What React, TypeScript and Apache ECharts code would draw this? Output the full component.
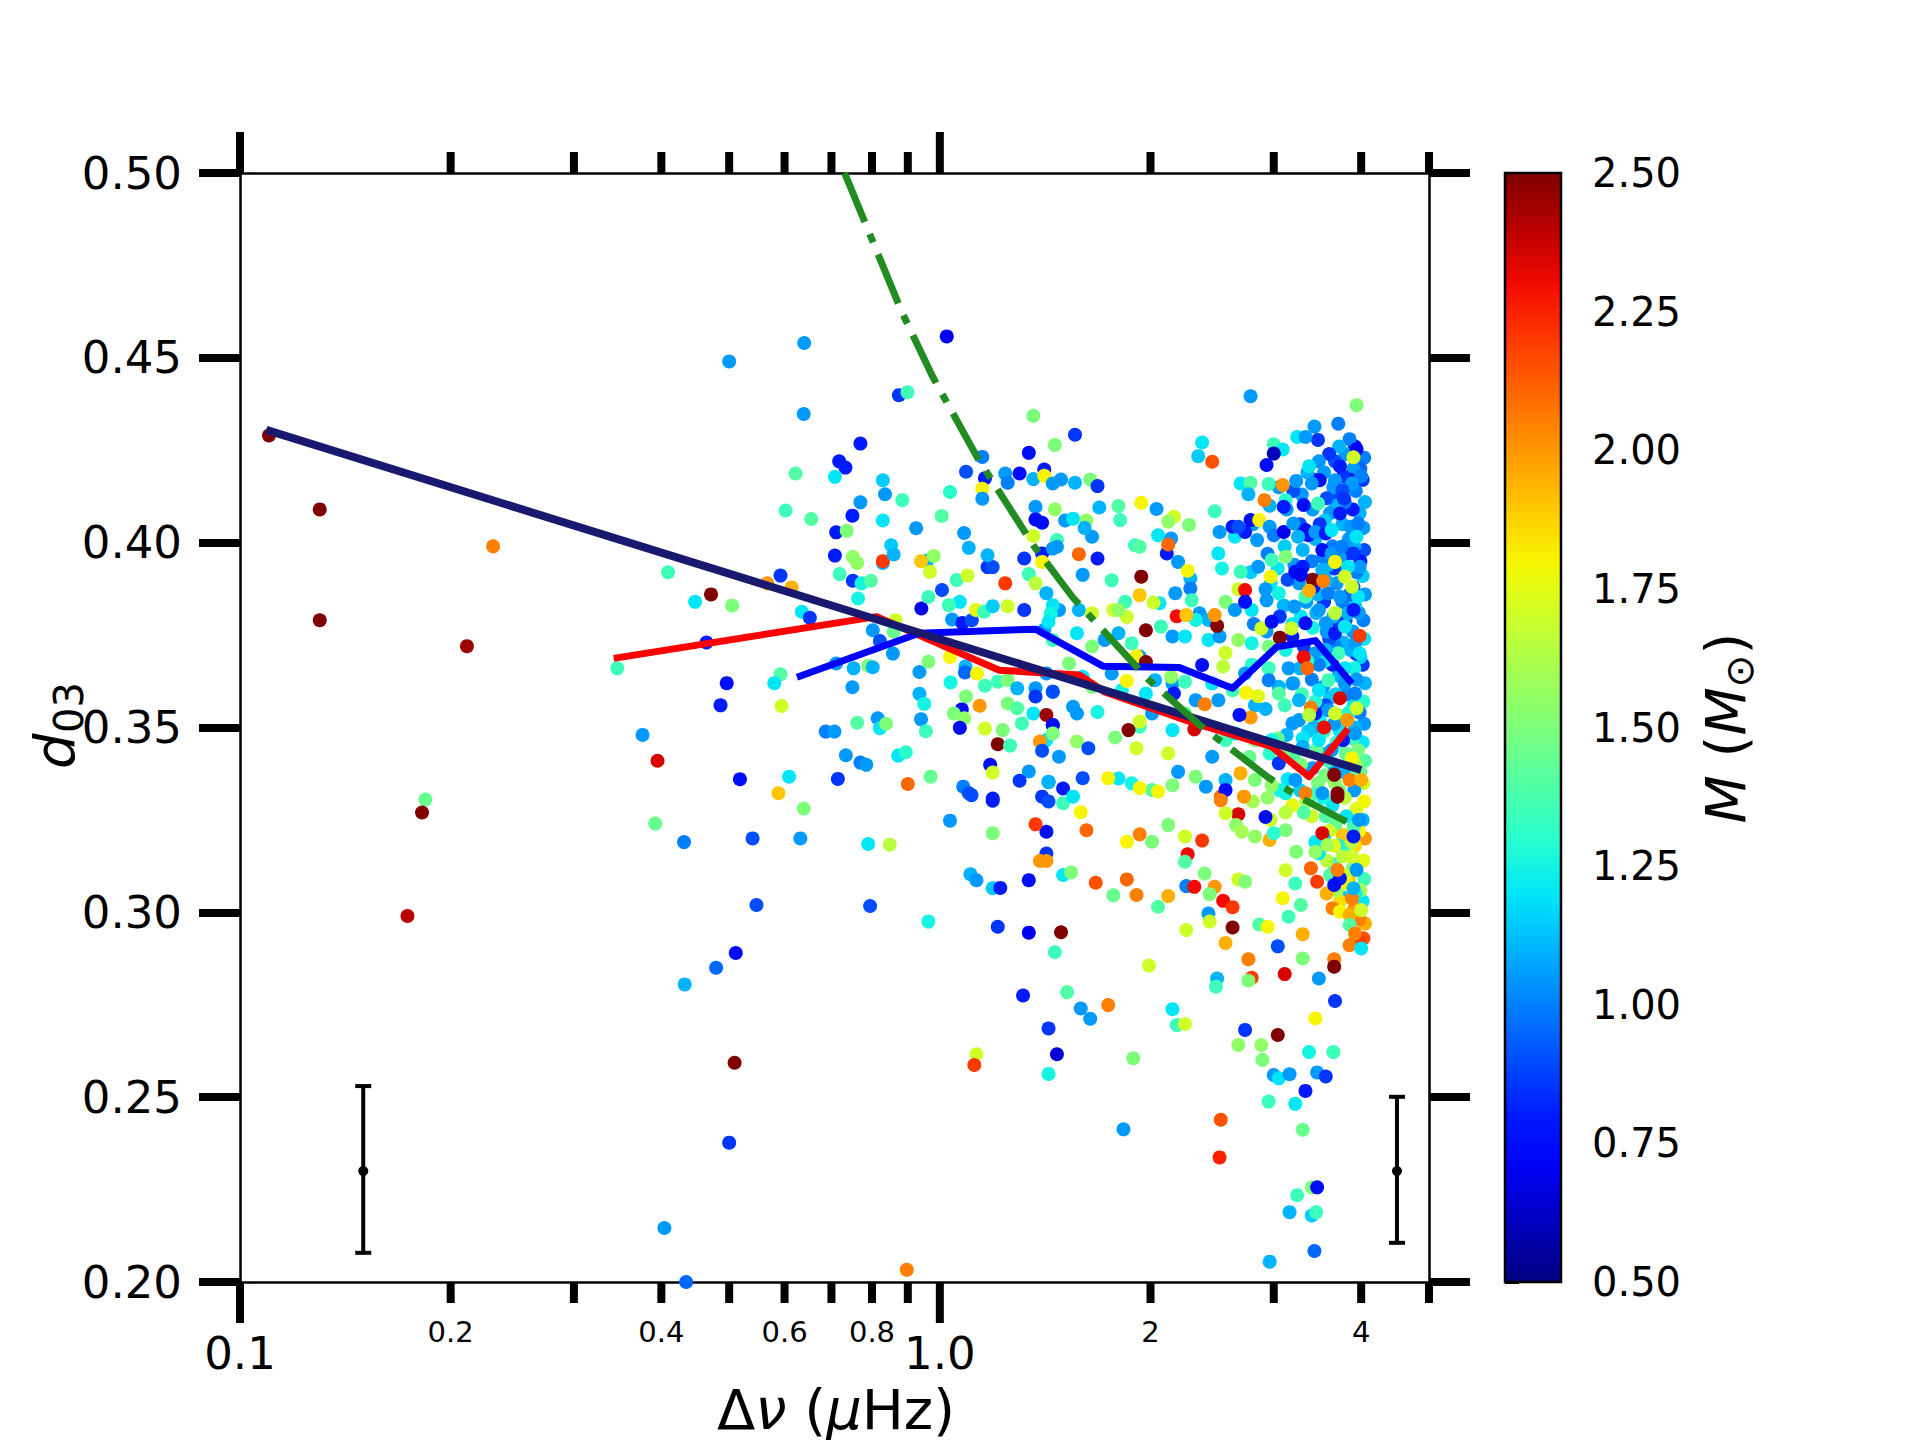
import React, { useEffect, useRef } from 'react';
import * as echarts from 'echarts';

type Pt = [number, number, number]; // [delta nu (muHz), d03, mass (Msun)]

const FONT = "'DejaVu Sans', sans-serif";

// ---- scatter data ----
const denseWall: Pt[] = [
  [4.04,0.423,1.0],[4.02,0.417,0.85],[4.05,0.411,1.1],[4.03,0.404,1.05],[4.04,0.398,0.9],[4.02,0.391,1.15],[4.05,0.386,1.05],[4.03,0.379,1.0],[4.04,0.374,1.2],[4.02,0.367,0.85],[4.05,0.362,1.1],[4.03,0.357,1.3],[4.04,0.351,1.05],[4.02,0.346,1.2],[4.05,0.341,1.4],[4.03,0.335,1.7],[4.04,0.330,1.8],[4.02,0.325,1.1],[4.05,0.320,2.0],[4.03,0.314,1.75],[4.04,0.309,1.35],[4.02,0.303,1.2],[4.05,0.297,1.95],[4.03,0.293,2.15],
  [3.99,0.420,0.95],[3.98,0.408,1.1],[3.99,0.395,0.8],[3.97,0.381,1.05],[3.99,0.369,1.15],[3.98,0.354,1.0],[3.99,0.338,1.45],[3.97,0.322,1.8],[3.99,0.306,1.6],[3.98,0.298,2.05],
  [3.92,0.426,0.75],[3.90,0.420,1.05],[3.93,0.414,1.0],[3.89,0.409,0.8],[3.91,0.399,1.1],[3.94,0.392,1.0],[3.90,0.388,0.9],[3.92,0.383,1.15],[3.89,0.376,1.05],[3.93,0.370,0.85],[3.91,0.366,1.25],[3.94,0.363,1.05],[3.90,0.356,1.2],[3.92,0.350,1.1],[3.89,0.347,1.35],[3.93,0.340,1.6],[3.91,0.333,1.05],[3.94,0.328,1.75],[3.90,0.323,1.4],[3.92,0.318,1.85],[3.89,0.312,1.5],[3.93,0.305,1.25],[3.91,0.301,2.0],
  [3.85,0.428,1.0],[3.86,0.417,0.8],[3.84,0.401,1.05],[3.85,0.386,0.95],[3.86,0.371,1.1],[3.84,0.354,1.25],[3.85,0.337,1.4],[3.86,0.319,1.65],[3.84,0.309,1.9],
  [3.80,0.424,1.05],[3.77,0.418,0.85],[3.79,0.411,1.0],[3.76,0.405,1.1],[3.81,0.397,0.8],[3.78,0.392,1.05],[3.76,0.384,1.0],[3.80,0.379,0.9],[3.77,0.373,1.1],[3.79,0.366,1.2],[3.81,0.359,1.0],[3.76,0.353,1.3],[3.78,0.348,1.05],[3.80,0.343,1.45],[3.77,0.338,1.1],[3.79,0.331,1.65],[3.81,0.326,1.2],[3.76,0.321,1.9],[3.78,0.316,1.35],[3.80,0.310,1.7],[3.77,0.304,1.15],
  [3.72,0.426,1.1],[3.71,0.412,0.9],[3.73,0.396,1.05],[3.72,0.378,0.85],[3.71,0.364,1.1],[3.73,0.349,1.2],[3.72,0.333,1.5],[3.71,0.318,1.25],[3.73,0.303,1.85],
  [3.67,0.422,0.9],[3.65,0.415,1.05],[3.68,0.410,1.1],[3.64,0.399,1.0],[3.66,0.393,0.85],[3.69,0.389,1.05],[3.65,0.380,1.1],[3.67,0.372,1.0],[3.64,0.367,0.8],[3.68,0.359,1.15],[3.66,0.351,1.05],[3.69,0.346,1.3],[3.65,0.340,1.05],[3.67,0.335,1.55],[3.64,0.329,1.2],[3.68,0.324,1.45],[3.66,0.318,1.75],[3.65,0.313,1.3],[3.69,0.306,1.6],
  [3.60,0.424,0.85],[3.61,0.408,1.05],[3.59,0.394,1.1],[3.60,0.374,0.9],[3.61,0.358,1.15],[3.59,0.341,1.35],[3.60,0.322,1.7],[3.61,0.310,1.4],
  [3.54,0.419,1.05],[3.57,0.412,0.9],[3.55,0.406,1.15],[3.53,0.396,1.0],[3.56,0.390,1.1],[3.54,0.384,0.85],[3.57,0.376,1.05],[3.55,0.368,1.2],[3.53,0.361,1.05],[3.56,0.356,0.9],[3.54,0.349,1.35],[3.57,0.343,1.1],[3.55,0.337,1.5],[3.53,0.331,1.25],[3.56,0.326,1.4],[3.54,0.320,1.15],[3.57,0.314,1.65],
  [3.48,0.422,1.05],[3.49,0.405,0.85],[3.47,0.386,1.1],[3.48,0.367,1.0],[3.49,0.352,1.25],[3.47,0.335,1.5],[3.48,0.316,1.2],
  [3.43,0.417,0.85],[3.41,0.409,1.05],[3.44,0.401,1.1],[3.40,0.395,1.0],[3.42,0.388,0.8],[3.45,0.381,1.1],[3.41,0.377,1.25],[3.43,0.370,1.05],[3.40,0.363,1.0],[3.44,0.357,1.3],[3.42,0.350,1.1],[3.45,0.344,1.45],[3.41,0.339,1.05],[3.43,0.332,1.35],[3.40,0.326,1.7],[3.44,0.319,1.2],
  [3.35,0.419,1.1],[3.36,0.402,0.8],[3.34,0.384,1.05],[3.35,0.368,1.3],[3.36,0.349,1.15],[3.34,0.330,1.6],
  [3.29,0.413,1.05],[3.27,0.405,0.9],[3.30,0.398,1.1],[3.26,0.389,1.05],[3.28,0.380,1.2],[3.31,0.372,0.85],[3.27,0.366,1.1],[3.29,0.359,1.35],[3.26,0.352,1.05],[3.30,0.347,1.2],[3.28,0.340,1.5],[3.27,0.333,1.15],[3.31,0.327,1.4],
  [3.20,0.414,0.9],[3.21,0.394,1.05],[3.19,0.378,1.2],[3.20,0.362,1.1],[3.21,0.343,1.4],[3.19,0.329,1.75],
  [3.13,0.409,1.05],[3.11,0.399,1.15],[3.14,0.390,0.9],[3.10,0.383,1.1],[3.12,0.371,1.25],[3.15,0.366,1.05],[3.11,0.356,1.35],[3.13,0.348,1.1],[3.10,0.342,1.5],[3.14,0.336,1.2],[3.12,0.327,1.65],
  [3.05,0.415,1.05],[3.04,0.393,1.2],[3.06,0.380,0.85],[3.05,0.361,1.1],[3.04,0.347,1.45],[3.06,0.333,1.25],
  [2.96,0.410,1.1],[2.94,0.397,1.0],[2.97,0.389,1.2],[2.93,0.376,1.05],[2.95,0.366,1.35],[2.92,0.355,1.1],[2.96,0.343,1.3],[2.94,0.331,1.55],[2.97,0.325,1.7],
  [2.80,0.405,1.05],[2.78,0.392,1.15],[2.81,0.378,1.0],[2.79,0.367,1.3],[2.82,0.356,1.1],[2.77,0.342,1.45],[2.80,0.330,1.6],
];

const clusterRows: Pt[] = [
  [1.46,0.409,1.55],[1.51,0.406,1.05],[1.55,0.4065,1.2],[1.62,0.406,1.55],[1.65,0.4016,1.05],[1.47,0.4007,1.35],[1.61,0.404,1.1],[1.90,0.3993,1.35],[2.05,0.402,1.2],[2.14,0.4011,1.05],[2.51,0.4029,1.05],[2.64,0.4016,1.2],[2.73,0.4029,0.8],[2.84,0.4007,1.05],[3.33,0.4034,0.75],[3.44,0.4029,1.05],[3.56,0.4025,0.8],[3.63,0.4034,1.2],[3.73,0.4079,0.8],[3.86,0.4043,1.05],[3.96,0.4052,1.0],[3.94,0.4016,1.2],
  [1.40,0.3971,0.8],[1.47,0.3989,1.05],[1.76,0.3898,1.35],[1.93,0.3989,1.4],[2.11,0.3971,0.8],[2.19,0.3948,1.05],[2.28,0.3903,1.1],[2.50,0.3971,1.2],[2.53,0.393,1.25],[2.69,0.3921,1.35],[2.85,0.3935,1.05],[2.98,0.3953,1.35],[3.12,0.3962,1.5],[3.22,0.3921,0.75],[3.30,0.3935,0.8],[3.52,0.398,0.75],[3.63,0.3971,1.05],[3.75,0.3989,1.0],[3.90,0.3971,0.85],[3.98,0.3935,1.05],[3.83,0.3935,1.2],[3.52,0.3926,1.1],
  [1.42,0.3863,1.5],[1.48,0.3818,1.05],[1.58,0.3818,1.1],[1.65,0.3809,1.7],[1.77,0.3818,1.7],[1.84,0.384,1.35],[2.06,0.3836,1.2],[2.17,0.3863,1.05],[2.28,0.3876,1.0],[2.29,0.3844,1.35],[2.35,0.3809,1.05],[2.42,0.3791,1.1],[2.56,0.384,1.5],[2.64,0.3818,1.05],[2.79,0.3818,1.2],[2.93,0.3844,1.05],[3.05,0.3863,1.25],[3.21,0.3827,1.05],[3.33,0.3854,1.35],[3.48,0.3818,1.05],[3.59,0.3863,1.0],[3.73,0.3854,1.05],[3.83,0.3809,1.1],[3.96,0.3854,1.2],[3.88,0.3881,1.7],
  [1.41,0.3764,1.05],[1.45,0.3737,1.35],[1.57,0.3755,1.2],[1.65,0.3719,1.5],[1.72,0.3737,1.05],[1.80,0.3755,1.1],[1.88,0.3728,1.35],[1.93,0.3692,1.05],[2.07,0.3773,1.35],[2.15,0.3746,1.05],[2.24,0.3746,1.2],[2.32,0.3791,1.25],[2.42,0.3737,1.2],[2.51,0.3746,1.05],[2.67,0.3737,1.55],[2.79,0.3728,1.25],[2.95,0.3719,1.5],[3.19,0.3746,0.8],[3.33,0.3782,0.75],[3.56,0.3782,1.05],[3.67,0.3755,0.8],[3.79,0.3773,1.2],[3.92,0.3728,1.05],[3.98,0.3701,1.2],[3.71,0.3701,1.35],[3.56,0.371,1.1],
  [1.42,0.3646,1.05],[1.53,0.3673,1.5],[1.60,0.3637,1.2],[1.65,0.361,1.5],[1.45,0.3597,1.05],[1.55,0.3556,1.05],[1.76,0.3646,1.05],[1.82,0.3601,1.25],[1.97,0.3592,1.2],[2.03,0.3628,1.1],[2.15,0.3619,1.05],[2.24,0.3624,1.35],[2.32,0.3574,1.05],[2.45,0.3619,1.2],[2.50,0.3574,1.05],[2.62,0.3601,1.35],[2.73,0.3646,1.05],[2.95,0.3628,1.0],[3.05,0.3592,1.4],[3.19,0.3619,1.05],[3.26,0.3574,1.1],[3.48,0.3601,1.2],[3.59,0.3628,1.35],[3.79,0.3619,1.05],[3.92,0.3592,1.0],[3.59,0.3547,1.05],[3.44,0.3538,0.8],
  [1.45,0.3506,0.65],[1.42,0.3466,1.2],[1.57,0.3538,1.05],[1.68,0.3542,1.25],[1.48,0.3421,1.05],[1.93,0.3502,1.35],[2.01,0.3538,1.05],[2.15,0.3493,1.2],[2.24,0.3538,1.4],[2.45,0.3421,1.05],[2.56,0.3466,1.35],[2.64,0.3484,1.2],[2.82,0.3466,1.5],[2.98,0.3466,1.25],[3.05,0.3403,0.85],[3.19,0.3511,1.05],[3.30,0.3448,1.1],[3.48,0.3466,1.2],[3.63,0.3439,1.05],[3.77,0.3466,0.8],[3.92,0.3484,1.05],[3.96,0.3439,1.5],
  [1.43,0.3353,1.05],[1.50,0.3335,0.8],[1.80,0.3362,1.2],[1.88,0.3349,1.25],[2.01,0.3331,1.4],[2.15,0.3344,1.5],[2.19,0.338,1.05],[2.32,0.3367,1.5],[2.40,0.334,1.05],[2.56,0.3358,1.1],[2.82,0.3358,1.5],[2.98,0.3344,1.55],[3.12,0.3322,1.25],[3.22,0.3358,1.05],[3.52,0.3322,1.05],
];

const sparseLeft: Pt[] = [
  [0.110,0.429,2.5],[0.130,0.409,2.5],[0.130,0.379,2.5],[0.230,0.399,2.05],[0.211,0.372,2.45],[0.184,0.3305,1.45],[0.182,0.327,2.5],[0.1735,0.299,2.4],
  [0.409,0.392,1.35],[0.447,0.384,1.2],[0.471,0.386,2.5],[0.505,0.383,1.5],[0.500,0.449,1.05],[0.464,0.373,0.8],[0.346,0.366,1.35],[0.496,0.362,0.75],[0.486,0.356,0.8],[0.376,0.348,1.05],[0.395,0.341,2.35],[0.518,0.336,0.75],[0.392,0.324,1.45],[0.431,0.319,1.0],[0.540,0.320,0.9],[0.547,0.302,0.9],[0.479,0.285,0.95],[0.511,0.289,0.75],[0.432,0.2805,1.1],[0.404,0.2146,1.05],[0.50,0.2377,0.85],[0.509,0.2593,2.5],[0.434,0.200,0.95],[0.897,0.2033,2.05],
];

const midCloud: Pt[] = [
  [0.640,0.454,1.05],[1.023,0.4558,0.7],[0.874,0.4399,0.85],[0.899,0.4407,1.35],[0.639,0.4348,1.05],[0.770,0.4268,0.8],[0.718,0.422,0.8],[0.733,0.4203,0.8],[0.622,0.4187,1.4],[0.708,0.4178,1.2],[0.829,0.4169,1.15],[0.835,0.4131,1.05],[0.770,0.4109,1.05],[0.884,0.4115,1.35],[0.602,0.4087,1.35],[0.655,0.4064,1.4],[0.750,0.4073,0.8],[0.829,0.406,1.2],[0.711,0.4028,0.8],[0.736,0.4032,1.5],[0.925,0.4039,1.05],[1.006,0.4072,1.4],[1.034,0.4137,1.3],[0.708,0.3965,0.8],[0.751,0.3962,1.55],[0.762,0.3945,1.55],[0.829,0.3945,1.1],[0.829,0.395,2.2],[0.852,0.3993,1.15],[0.859,0.3968,1.1],[0.96,0.3952,1.1],[0.94,0.395,1.9],[0.98,0.3964,1.55],[0.968,0.3921,1.7],[0.719,0.3915,1.35],[0.751,0.3897,0.85],[0.773,0.389,1.25],[0.797,0.3897,1.4],[0.764,0.3849,1.25],[0.592,0.3911,0.85],[0.567,0.389,2.0],[0.614,0.3879,1.95],[0.635,0.3813,1.2],[0.652,0.3797,0.85],
  [0.711,0.3673,1.05],[0.753,0.366,1.1],[0.790,0.3667,1.5],[0.802,0.3663,1.1],[0.802,0.3763,1.05],[0.821,0.3734,0.9],[0.857,0.370,1.05],[0.859,0.3759,1.45],[0.864,0.379,1.7],[0.941,0.3822,0.7],[0.963,0.3853,1.35],[1.007,0.3872,0.9],[1.057,0.3899,1.35],[1.068,0.384,1.2],[1.095,0.3911,1.7],[1.03,0.3831,1.35],[1.041,0.3792,1.05],[1.077,0.3783,0.8],[1.111,0.379,0.9],[1.126,0.3818,1.75],[1.157,0.3813,1.35],[1.19,0.3828,1.15],[1.25,0.3828,1.7],[1.32,0.3818,0.85],[1.24,0.389,2.2],[1.17,0.3934,0.85],[1.19,0.3934,0.9],[1.17,0.3966,1.1],[1.083,0.4026,1.05],[1.10,0.3986,1.1],[1.15,0.4232,1.0],[1.09,0.4192,0.9],[1.16,0.4174,0.8],[1.15,0.4146,1.8],[1.15,0.4119,1.05],[1.24,0.4187,1.05],[1.25,0.4162,1.0],[1.30,0.4187,0.75],[1.34,0.4243,0.75],[1.36,0.4343,1.5],[1.36,0.4172,1.1],[1.41,0.4198,0.8],[1.41,0.4181,1.8],[1.37,0.4097,1.05],[1.37,0.4063,0.75],[1.40,0.4054,0.75],[1.36,0.4018,1.7],[1.32,0.3957,0.85],[1.40,0.3948,1.8],[1.34,0.3915,1.35],[1.37,0.389,1.65],[1.45,0.3984,1.05],[1.46,0.4264,1.5],[1.42,0.3863,1.1],[1.45,0.3831,1.2],[1.44,0.3808,1.25],[1.43,0.3786,1.2],
  [0.935,0.365,1.05],[0.963,0.3678,1.5],[1.034,0.3691,1.8],[1.088,0.3665,1.1],[1.086,0.3649,0.95],[1.13,0.3646,1.8],[1.036,0.3622,1.25],[1.16,0.3613,1.35],[1.21,0.3624,1.35],[1.25,0.3628,1.5],[1.29,0.3606,1.1],[1.37,0.3606,1.05],[1.45,0.3597,0.9],[1.09,0.3584,1.5],[1.14,0.3559,2.0],[1.075,0.3549,0.75],[1.047,0.3538,1.5],[1.084,0.3525,1.55],[1.068,0.3499,0.75],[1.16,0.3497,1.7],[1.23,0.3493,1.5],[1.25,0.3565,1.5],[1.29,0.3552,1.4],[1.36,0.3538,1.2],[1.31,0.3511,1.35],[1.37,0.3584,0.85],[1.42,0.3534,2.45],[1.45,0.3507,0.75],[1.45,0.3484,1.5],[1.39,0.3462,2.0],[1.40,0.3437,0.9],[1.21,0.3455,2.5],[1.26,0.3451,1.35],[1.18,0.3399,0.75],[1.19,0.3378,1.7],[1.34,0.3381,1.05],[1.30,0.3356,0.85],[1.43,0.3352,1.1],[0.97,0.3367,1.45],[0.90,0.3347,2.1],[1.19,0.3308,0.8],[1.08,0.334,1.0],[1.10,0.3322,0.9],[1.40,0.3313,0.85],
  [0.592,0.3644,1.4],[0.58,0.362,1.2],[0.594,0.3558,1.7],[0.609,0.3367,1.2],[0.588,0.3322,1.9],[0.715,0.3361,0.85],[0.734,0.3425,1.05],[0.77,0.3405,1.0],[0.785,0.3399,1.05],[0.872,0.3424,1.2],[0.894,0.3433,1.3],[0.687,0.3489,1.0],[0.707,0.3489,1.05],[0.762,0.3513,1.4],[0.815,0.3525,1.05],[0.821,0.3498,1.2],[0.838,0.351,1.5],[0.75,0.3609,1.05],[0.935,0.3591,1.1],[0.95,0.3564,1.25],[0.94,0.3522,1.05],[0.955,0.349,1.35],
];

const clusterHighlights: Pt[] = [
  [2.78,0.4396,1.05],[3.94,0.4372,1.5],[3.71,0.4322,1.0],[3.43,0.4314,1.05],[3.47,0.4278,0.85],[3.24,0.4286,1.2],[3.33,0.4286,1.05],[3.00,0.4266,1.35],[3.09,0.4252,1.2],[3.00,0.4241,0.6],[2.93,0.421,0.75],[2.37,0.4271,1.2],[2.34,0.4234,1.15],[2.45,0.4219,2.15],[1.56,0.4292,0.85],[3.94,0.4253,0.7],[3.90,0.4231,1.7],[3.73,0.4207,0.8],[4.00,0.418,1.0],[3.88,0.416,1.05],[3.67,0.4169,1.05],[3.76,0.4142,0.9],[3.78,0.4119,0.85],[3.49,0.4169,0.75],[3.40,0.416,1.05],[3.23,0.4167,1.05],[3.37,0.4207,1.2],[3.09,0.4156,2.0],[2.91,0.4115,2.05],[2.69,0.416,1.2],[2.78,0.4162,1.4],[2.95,0.4159,1.35],[2.76,0.4131,1.1],[3.12,0.4115,1.3],[3.10,0.4097,0.8],[3.31,0.4102,0.75],[3.47,0.4106,1.35],[2.47,0.4085,1.35],[1.94,0.4108,1.8],[2.04,0.4091,1.05],[2.16,0.407,1.7],[2.12,0.4057,1.55],[2.27,0.4048,1.5],[1.80,0.4099,1.4],[1.81,0.4061,1.35],[1.69,0.4095,1.1],[1.64,0.4171,1.5],[1.68,0.4153,0.85],[1.56,0.4162,1.1],[1.49,0.4171,1.05],[1.45,0.416,1.05],[2.62,0.4043,0.8],[2.67,0.4043,0.9],[2.78,0.4061,0.75],[2.86,0.4061,1.8],[2.96,0.4043,1.05],[3.00,0.402,1.0],[3.10,0.4029,0.7],[3.20,0.4052,1.05],[3.25,0.4016,1.1],
  [1.94,0.3908,2.5],[2.12,0.3995,2.1],[2.26,0.3924,1.8],[1.58,0.3969,2.1],[1.68,0.3957,0.8],[1.60,0.3913,1.05],[1.93,0.3858,1.9],[2.02,0.3838,1.7],[2.18,0.3801,2.3],[2.25,0.3804,1.9],[1.97,0.3763,2.5],[1.85,0.3799,1.7],[1.80,0.3818,1.55],[2.49,0.3775,2.5],[2.47,0.3804,2.0],[2.67,0.3874,1.7],[2.73,0.3872,2.3],[2.73,0.384,0.75],[2.97,0.3908,1.8],[2.92,0.3874,1.05],[3.41,0.39,2.5],[3.53,0.3896,2.05],[3.37,0.387,1.95],[3.67,0.3948,1.8],[3.79,0.3908,1.7],[3.28,0.3913,0.7],[3.98,0.3748,2.2],[3.06,0.3743,2.5],[3.31,0.369,2.3],[3.35,0.366,2.1],[2.88,0.3768,1.7],[3.18,0.3768,1.7],[2.98,0.3786,0.75],[3.67,0.381,1.65],[3.90,0.3818,0.8],[2.56,0.3702,1.7],[2.54,0.3665,1.65],[2.37,0.3669,0.75],[1.85,0.3626,1.8],[1.91,0.3693,1.8],[1.97,0.3677,2.5],[2.14,0.3637,1.55],[2.16,0.3592,0.8],[2.74,0.3594,1.8],[2.85,0.3585,1.75],[2.39,0.3563,2.05],[2.31,0.3495,2.35],[1.86,0.3493,2.5],[2.78,0.3527,2.0],[2.68,0.3534,0.75],[3.39,0.3554,2.05],[3.37,0.3534,1.65],[3.54,0.35,2.3],[3.73,0.3579,2.35],[3.67,0.3538,1.7],[3.82,0.352,2.0],[3.94,0.3552,1.7],[1.93,0.3516,1.7],[2.12,0.343,1.7],[1.91,0.3444,1.7],[1.78,0.3473,1.5],[1.57,0.3462,1.55],[1.63,0.3444,0.9],[3.66,0.3372,2.5],[3.70,0.3322,2.5],[3.85,0.3358,2.05],[4.00,0.3358,1.95],[3.88,0.3416,1.8],[2.69,0.3376,1.95],[1.74,0.3363,1.8],[1.93,0.3336,1.8],[2.05,0.3327,1.8],[1.60,0.3363,0.9],[2.52,0.3313,2.1],[3.33,0.3322,2.05],[2.56,0.3331,0.75],
];

const lowerCloud: Pt[] = [
  [1.43,0.33,0.9],[1.50,0.3295,1.35],[1.55,0.3313,1.2],[1.59,0.3271,1.8],[1.42,0.3218,0.75],[1.62,0.3222,2.1],[1.42,0.3159,0.85],[1.42,0.3139,2.0],[1.39,0.3139,2.0],[1.50,0.3101,1.2],[1.54,0.3108,1.5],[1.67,0.308,2.15],[1.77,0.3046,1.45],[1.85,0.3089,2.1],[1.91,0.3047,2.05],[1.85,0.3191,1.8],[1.93,0.3211,2.05],[2.01,0.3191,1.5],[2.12,0.3236,1.5],[2.05,0.3015,1.4],[2.12,0.3044,1.95],[1.99,0.2856,1.7],[2.24,0.3205,1.7],[2.37,0.3194,2.2],[2.26,0.3157,2.3],[2.24,0.3137,1.4],[2.39,0.3105,1.5],[2.25,0.3071,1.0],[2.31,0.3069,2.3],[2.47,0.3069,2.0],[2.43,0.3049,1.5],[2.54,0.3031,2.3],[2.62,0.3014,2.2],[2.42,0.2997,1.05],[2.43,0.2975,1.7],[2.62,0.2959,2.5],[2.56,0.2917,1.95],[2.25,0.2952,1.7],[2.67,0.3089,1.7],[2.73,0.3083,1.5],[2.76,0.2873,2.05],[2.79,0.2823,2.2],[2.76,0.2815,1.5],[2.49,0.2821,1.1],[2.48,0.2799,1.35],[3.04,0.2908,0.9],[3.11,0.2833,2.35],[2.86,0.2967,1.4],[2.94,0.2961,1.8],[3.30,0.2941,1.95],[3.30,0.2875,1.5],[3.48,0.2821,1.05],[3.66,0.2873,2.05],[3.66,0.2853,2.5],[3.67,0.276,0.85],[3.44,0.2713,1.8],[3.04,0.2668,2.5],[2.73,0.2682,0.85],[2.67,0.2641,1.55],[2.88,0.2641,1.55],[2.89,0.2601,1.5],[3.00,0.256,1.05],[3.05,0.2551,1.2],[3.16,0.2562,1.05],[3.37,0.2622,1.25],[3.65,0.2622,1.35],[3.46,0.2567,1.05],[3.56,0.2556,0.85],[3.33,0.2517,0.8],[2.95,0.2488,1.35],[3.22,0.2482,1.2],[3.30,0.2412,1.45],[2.52,0.2439,2.15],[2.51,0.2337,2.25],[1.83,0.2413,1.05],[3.40,0.2256,1.5],[3.46,0.2256,0.75],[3.24,0.2235,1.35],[3.16,0.2189,1.1],[3.40,0.218,1.15],[3.45,0.2189,1.35],[2.96,0.2055,1.1],[3.43,0.2084,0.95],[1.49,0.2946,2.5],[1.46,0.2892,1.35],[1.52,0.2784,1.4],[1.59,0.274,1.05],[1.64,0.2712,1.05],[1.74,0.2749,2.05],[1.43,0.2686,0.85],[1.47,0.2616,0.65],[1.43,0.2563,1.25],[1.89,0.2605,1.5],[2.15,0.2738,1.2],[2.18,0.2695,1.35],[2.24,0.2698,1.7],
  [2.67,0.3265,2.35],[2.52,0.3303,2.05],[2.72,0.3313,2.0],[2.92,0.3258,0.75],[2.96,0.3196,1.95],[3.12,0.3114,1.7],[3.09,0.3038,1.8],[3.22,0.3078,1.35],[3.28,0.302,1.4],[3.15,0.2988,1.35],[3.39,0.3119,2.1],[3.46,0.3083,2.2],[3.52,0.3214,2.35],[3.70,0.3313,2.5],[3.57,0.3051,1.95],[3.64,0.3011,2.05],[3.73,0.3002,1.8],[3.85,0.2993,1.95],[3.88,0.3038,2.05],[3.82,0.3078,1.8],[3.73,0.3092,0.8],[3.97,0.2925,2.2],[3.85,0.2911,2.05],[4.00,0.2902,1.2],[4.00,0.3006,1.7],[3.85,0.2966,1.4],[3.23,0.3164,1.5],[3.44,0.3164,1.55],[3.58,0.3182,1.6],[3.12,0.3222,1.5],[3.00,0.3214,1.3],[2.56,0.3268,1.7],[2.65,0.3236,1.55],[2.70,0.3218,1.6],[2.82,0.3205,1.55],[3.76,0.3151,1.65],[3.88,0.3151,1.7],[3.70,0.3115,2.05],[3.90,0.3205,0.8],[3.97,0.325,1.05],[3.94,0.3115,1.05],[3.90,0.3065,1.1],[3.66,0.3074,0.75],[3.92,0.2943,2.05],
  [0.639,0.3281,1.5],[0.632,0.32,1.05],[0.790,0.3185,1.2],[0.848,0.3183,1.65],[1.034,0.3248,1.05],[1.11,0.3317,0.9],[1.19,0.3302,0.8],[1.19,0.3214,1.5],[1.37,0.3238,2.2],[1.106,0.3103,1.1],[1.128,0.3087,1.05],[1.19,0.3065,1.15],[1.22,0.3066,0.8],[1.34,0.3087,0.75],[0.795,0.3017,0.9],[0.963,0.2975,1.25],[1.21,0.2961,0.85],[1.34,0.2945,0.7],[1.315,0.2775,0.8],[1.128,0.2616,1.7],[1.12,0.2587,2.2],
];

// ---- lines ----
const navyLine: [number, number][] = [[0.109,0.4305],[4.0,0.3385]];
const redLine: [number, number][] = [[0.342,0.3687],[0.812,0.380],[1.216,0.3655],[1.582,0.3642],[1.72,0.3596],[2.30,0.3513],[2.98,0.3448],[3.37,0.3367],[3.83,0.3497]];
const blueLine: [number, number][] = [[0.625,0.3636],[0.934,0.3755],[1.37,0.3766],[1.71,0.3666],[2.2,0.3662],[2.62,0.3606],[3.03,0.3718],[3.44,0.3735],[3.88,0.3619]];
const greenLine: [number, number][] = [[0.731,0.500],[0.883,0.4623],[0.978,0.4447],[1.13,0.4232],[1.36,0.3993],[1.55,0.3851],[1.98,0.3632],[2.35,0.3507],[2.95,0.3364],[3.27,0.3311],[3.81,0.3245]];

// ---- error bars ----
const errX = [0.15, 4.5];
const errY = [0.23, 0.23];
const errLow = [0.2079, 0.2106];
const errHigh = [0.253, 0.2501];

// ---- ticks ----
const xTickValues = [0.1, 0.2, 0.3, 0.4, 0.5, 0.6, 0.7, 0.8, 0.9, 1.0, 2, 3, 4, 5];
const xTickMajor = [1, 0, 0, 0, 0, 0, 0, 0, 0, 1, 0, 0, 0, 0];
const xTickLabels = ['0.1', '0.2', '', '0.4', '', '0.6', '', '0.8', '', '1.0', '2', '', '4', ''];
const yMin = 0.2, yMax = 0.5, yStep = 0.05;
const massMin = 0.5, massMax = 2.5, massStep = 0.25;

const jetColors = ['#000080','#0000b9','#0000f3','#001aff','#004dff','#0080ff','#00b3ff','#00e6f7','#29ffce','#52ffa4','#7dff7a','#a4ff52','#ceff29','#f7f500','#ffc600','#ff9700','#ff6800','#ff3900','#f30900','#b90000','#800000'];

function buildOption(): any {
  const allPoints = [...denseWall, ...clusterRows, ...sparseLeft, ...midCloud, ...clusterHighlights, ...lowerCloud];
  const gradient = new echarts.graphic.LinearGradient(0, 1, 0, 0,
    jetColors.map((c, i) => ({ offset: i / (jetColors.length - 1), color: c })));
  const lineSeries = (data: [number, number][], color: string, width: number, z: number, type: any = 'solid') => ({
    type: 'line', data, showSymbol: false, symbol: 'none', z, silent: true,
    lineStyle: { color, width, type, cap: 'butt', join: 'round' },
  });
  const txt = (text: string, x: number, y: number, extra: any) => ({
    type: 'text', x, y,
    style: { text, fontFamily: FONT, fill: '#000', ...extra },
  });
  return {
    animation: false,
    backgroundColor: '#ffffff',
    grid: [
      { left: 240, top: 173, width: 1189, height: 1109 },
      { left: 1505, top: 173, width: 56, height: 1109 },
    ],
    xAxis: [
      { type: 'log', logBase: 10, min: 0.1, max: 5, gridIndex: 0, position: 'bottom',
        axisLine: { show: true, lineStyle: { color: '#000', width: 2.5 } },
        axisTick: { show: false }, axisLabel: { show: false }, splitLine: { show: false }, minorTick: { show: false } },
      { type: 'log', logBase: 10, min: 0.1, max: 5, gridIndex: 0, position: 'top',
        axisLine: { show: true, lineStyle: { color: '#000', width: 2.5 } },
        axisTick: { show: false }, axisLabel: { show: false }, splitLine: { show: false } },
      { type: 'value', gridIndex: 1, min: 0, max: 1, show: false },
    ],
    yAxis: [
      { type: 'value', min: yMin, max: yMax, interval: yStep, gridIndex: 0, position: 'left',
        axisLine: { show: true, lineStyle: { color: '#000', width: 2.5 } },
        axisTick: { show: true, inside: false, length: 41, lineStyle: { color: '#000', width: 8 } },
        axisLabel: { show: true, fontSize: 45, fontFamily: FONT, color: '#000', margin: 58, formatter: (v: number) => v.toFixed(2) },
        splitLine: { show: false } },
      { type: 'value', min: yMin, max: yMax, interval: yStep, gridIndex: 0, position: 'right',
        axisLine: { show: true, lineStyle: { color: '#000', width: 2.5 } },
        axisTick: { show: true, inside: false, length: 41, lineStyle: { color: '#000', width: 8 } },
        axisLabel: { show: false }, splitLine: { show: false } },
      { type: 'value', min: massMin, max: massMax, interval: massStep, gridIndex: 1, position: 'right',
        axisLine: { show: false },
        axisTick: { show: true, inside: false, length: 14, lineStyle: { color: '#000', width: 3 } },
        axisLabel: { show: true, fontSize: 40, fontFamily: FONT, color: '#000', margin: 31, formatter: (v: number) => v.toFixed(2) },
        splitLine: { show: false } },
    ],
    visualMap: {
      type: 'continuous', show: false, min: massMin, max: massMax, dimension: 2, seriesIndex: 0,
      inRange: { color: jetColors },
    },
    series: [
      { type: 'scatter', xAxisIndex: 0, yAxisIndex: 0, data: allPoints, symbolSize: 14, z: 2,
        itemStyle: { opacity: 1 }, silent: true },
      lineSeries(greenLine, '#228b22', 7, 6, [53, 13, 9, 13]),
      lineSeries(redLine, '#ff0000', 7, 3),
      lineSeries(blueLine, '#0000ff', 7, 4),
      lineSeries(navyLine, '#191970', 8, 5),
      {
        type: 'custom', xAxisIndex: 0, yAxisIndex: 0, silent: true, z: 7, clip: false,
        data: errX.map((x, i) => [x, errY[i], errLow[i], errHigh[i]]),
        renderItem: (params: any, api: any) => {
          const x = api.value(0);
          const c = api.coord([x, api.value(1)]);
          const lo = api.coord([x, api.value(2)]);
          const hi = api.coord([x, api.value(3)]);
          const st = { stroke: '#000', lineWidth: 4 };
          return { type: 'group', children: [
            { type: 'line', shape: { x1: c[0], y1: lo[1], x2: c[0], y2: hi[1] }, style: st },
            { type: 'line', shape: { x1: c[0] - 8, y1: lo[1], x2: c[0] + 8, y2: lo[1] }, style: st },
            { type: 'line', shape: { x1: c[0] - 8, y1: hi[1], x2: c[0] + 8, y2: hi[1] }, style: st },
            { type: 'circle', shape: { cx: c[0], cy: c[1], r: 5 }, style: { fill: '#000' } },
          ] };
        },
      },
      {
        type: 'custom', xAxisIndex: 0, yAxisIndex: 0, silent: true, z: 8, clip: false,
        data: xTickValues.map((v) => [v, yMin]),
        renderItem: (params: any, api: any) => {
          const i = params.dataIndex;
          const v = api.value(0);
          const major = xTickMajor[i] === 1;
          const b = api.coord([v, yMin]);
          const t = api.coord([v, yMax]);
          const len = major ? 41 : 21;
          const st = { stroke: '#000', lineWidth: 8 };
          const children: any[] = [
            { type: 'line', shape: { x1: b[0], y1: b[1], x2: b[0], y2: b[1] + len }, style: st },
            { type: 'line', shape: { x1: t[0], y1: t[1], x2: t[0], y2: t[1] - len }, style: st },
          ];
          const lab = xTickLabels[i];
          if (lab) {
            children.push({ type: 'text', x: b[0], y: b[1] + (major ? 71 : 50),
              style: { text: lab, fontFamily: FONT, fontSize: major ? 45 : 29, fill: '#000',
                align: 'center', verticalAlign: 'middle', textAlign: 'center', textVerticalAlign: 'middle' } });
          }
          return { type: 'group', children };
        },
      },
    ],
    graphic: [
      { type: 'rect', x: 1505, y: 173, shape: { x: 0, y: 0, width: 56, height: 1109 },
        style: { fill: gradient, stroke: '#000', lineWidth: 2.5 }, z: 1, silent: true },
      txt('Δ{i|ν} ({i|μ}Hz)', 836, 1409, {
        fontSize: 56, align: 'center', verticalAlign: 'middle', textAlign: 'center', textVerticalAlign: 'middle',
        rich: { i: { fontStyle: 'italic', fontSize: 56, fontFamily: FONT } },
      }),
      { type: 'group', x: 55, y: 727, rotation: Math.PI / 2, children: [
        txt('d', -42, -1, { fontSize: 56, fontStyle: 'italic', align: 'left', verticalAlign: 'middle', textAlign: 'left', textVerticalAlign: 'middle' }),
        txt('03', -6, 14, { fontSize: 40, align: 'left', verticalAlign: 'middle', textAlign: 'left', textVerticalAlign: 'middle' }),
      ] },
      { type: 'group', x: 1728, y: 728, rotation: Math.PI / 2, children: [
        txt('{i|M} ({i|M}', -95.5, -2.4, { fontSize: 56, align: 'left', verticalAlign: 'middle', textAlign: 'left', textVerticalAlign: 'middle',
          rich: { i: { fontStyle: 'italic', fontSize: 56, fontFamily: FONT } } }),
        txt('⊙', 40.7, 11.5, { fontSize: 39, align: 'left', verticalAlign: 'middle', textAlign: 'left', textVerticalAlign: 'middle' }),
        txt(')', 73.4, -2.4, { fontSize: 56, align: 'left', verticalAlign: 'middle', textAlign: 'left', textVerticalAlign: 'middle' }),
      ] },
    ],
  };
}

export default function App() {
  const ref = useRef<HTMLDivElement>(null);
  useEffect(() => {
    if (!ref.current) return;
    const chart = echarts.init(ref.current, undefined, { renderer: 'svg' });
    chart.setOption(buildOption());
    return () => chart.dispose();
  }, []);
  return (
    <div
      ref={ref}
      style={{ position: 'fixed', left: 0, top: 0, width: 1920, height: 1440, background: '#ffffff' }}
    />
  );
}
